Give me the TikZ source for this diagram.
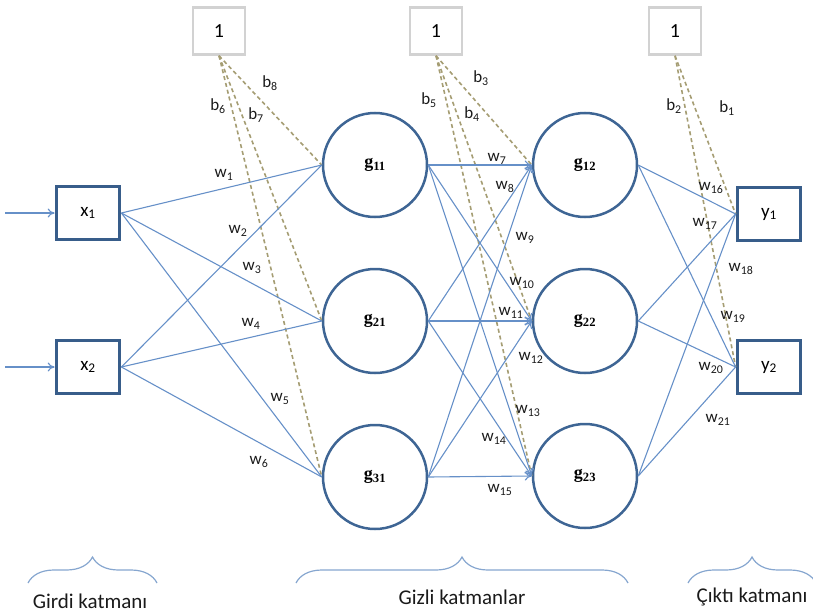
\documentclass[tikz,border=0pt]{standalone}
\usepackage{fontspec}
\setmainfont{Carlito}
\newfontfamily\nodeserif{Liberation Serif}
\usetikzlibrary{arrows.meta,decorations.pathreplacing}
\definecolor{boxblue}{HTML}{385D8A}
\definecolor{ringblue}{HTML}{3E6594}
\definecolor{linkblue}{HTML}{6690C8}
\definecolor{biasline}{HTML}{A59D73}
\definecolor{biasgray}{HTML}{D2D2D2}
\definecolor{braceblue}{HTML}{86A6CF}
\definecolor{labelink}{HTML}{1A1A1A}
\begin{document}
\begin{tikzpicture}[x=1pt,y=-1pt,
  iobox/.style={draw=boxblue,line width=3.8pt,minimum width=63pt,minimum height=53pt,inner sep=0pt,
    font=\fontsize{19}{22}\selectfont},
  neuron/.style={circle,draw=ringblue,line width=2.5pt,minimum size=104pt,inner sep=0pt,
    font=\nodeserif\bfseries\fontsize{18}{20}\selectfont},
  biasbox/.style={draw=biasgray,line width=2.5pt,minimum width=52pt,minimum height=47pt,inner sep=0pt,
    font=\fontsize{20}{22}\selectfont},
  link/.style={draw=linkblue,line width=1.1pt},
  arrowlink/.style={link,-{To[length=7pt,width=9pt]}},
  biaslink/.style={draw=biasline,line width=1.6pt,dash pattern=on 4pt off 3pt},
  wlabel/.style={text=labelink,inner sep=0pt,font=\fontsize{17}{19}\selectfont},
  bracedeco/.style={draw=braceblue,line width=1.2pt,decorate,decoration={brace,amplitude=26pt}},
  caption/.style={inner sep=0pt,text=labelink,font=\fontsize{21}{24}\selectfont}]
\useasboundingbox (0,0) rectangle (813,615);

% input, hidden and output units
\node[iobox] (x1) at (88,213) {x\textsubscript{1}};
\node[iobox] (x2) at (88,367) {x\textsubscript{2}};
\node[neuron] (g11) at (375,165) {g\textsubscript{11}};
\node[neuron] (g21) at (375,321) {g\textsubscript{21}};
\node[neuron] (g31) at (375,477) {g\textsubscript{31}};
\node[neuron] (g12) at (585,165) {g\textsubscript{12}};
\node[neuron] (g22) at (585,321) {g\textsubscript{22}};
\node[neuron] (g23) at (585,476) {g\textsubscript{23}};
\node[iobox] (y1) at (769,214) {y\textsubscript{1}};
\node[iobox] (y2) at (769,367) {y\textsubscript{2}};

% bias units
\node[biasbox] (bias1) at (219,31) {1};
\node[biasbox] (bias2) at (436,31) {1};
\node[biasbox] (bias3) at (675,31) {1};

% external inputs
\coordinate (in1) at (5,213);
\coordinate (in2) at (5,367);
\draw[arrowlink] (in1) -- (x1.west);
\draw[arrowlink] (in2) -- (x2.west);

% bias connections
\foreach \t in {g11,g21,g31} \draw[biaslink] (bias1.south) -- (\t.west);
\foreach \t in {g12,g22,g23} \draw[biaslink] (bias2.south) -- (\t.west);
\foreach \t in {y1,y2} \draw[biaslink] (bias3.south) -- (\t.west);

% input -> first hidden layer
\foreach \s in {x1,x2}
  \foreach \t in {g11,g21,g31}
    \draw[link] (\s.east) -- (\t.west);

% first hidden -> second hidden layer
\foreach \s in {g11,g21,g31}
  \foreach \t in {g12,g22,g23}
    \draw[arrowlink] (\s.east) -- (\t.west);

% second hidden -> output layer
\foreach \s in {g12,g22,g23}
  \foreach \t in {y1,y2}
    \draw[link] (\s.east) -- (\t.west);

% bias labels
\node[wlabel] (lb8) at (270,83) {b\textsubscript{8}};
\node[wlabel] (lb6) at (218,106) {b\textsubscript{6}};
\node[wlabel] (lb7) at (256,115) {b\textsubscript{7}};
\node[wlabel] (lb3) at (481,78) {b\textsubscript{3}};
\node[wlabel] (lb5) at (429,100) {b\textsubscript{5}};
\node[wlabel] (lb4) at (472,114) {b\textsubscript{4}};
\node[wlabel] (lb2) at (674,106) {b\textsubscript{2}};
\node[wlabel] (lb1) at (727,108) {b\textsubscript{1}};

% weight labels
\node[wlabel] (lw1) at (224,175) {w\textsubscript{1}};
\node[wlabel] (lw2) at (238,231) {w\textsubscript{2}};
\node[wlabel] (lw3) at (252,268) {w\textsubscript{3}};
\node[wlabel] (lw4) at (251,324) {w\textsubscript{4}};
\node[wlabel] (lw5) at (280,399) {w\textsubscript{5}};
\node[wlabel] (lw6) at (259,462) {w\textsubscript{6}};
\node[wlabel] (lw7) at (497,159) {w\textsubscript{7}};
\node[wlabel] (lw8) at (505,187) {w\textsubscript{8}};
\node[wlabel] (lw9) at (525,238) {w\textsubscript{9}};
\node[wlabel] (lw10) at (522,283) {w\textsubscript{10}};
\node[wlabel] (lw11) at (511,313) {w\textsubscript{11}};
\node[wlabel] (lw12) at (531,358) {w\textsubscript{12}};
\node[wlabel] (lw13) at (528,411) {w\textsubscript{13}};
\node[wlabel] (lw14) at (494,439) {w\textsubscript{14}};
\node[wlabel] (lw15) at (500,490) {w\textsubscript{15}};
\node[wlabel] (lw16) at (711,188) {w\textsubscript{16}};
\node[wlabel] (lw17) at (705,224) {w\textsubscript{17}};
\node[wlabel] (lw18) at (741,269) {w\textsubscript{18}};
\node[wlabel] (lw19) at (733,317) {w\textsubscript{19}};
\node[wlabel] (lw20) at (711,368) {w\textsubscript{20}};
\node[wlabel] (lw21) at (718,420) {w\textsubscript{21}};

% layer braces and captions
\draw[bracedeco] (28,583) -- (157,583);
\draw[bracedeco] (296,583) -- (628,583);
\draw[bracedeco] (688,583) -- (816,583);
\node[caption] (cin) at (90,601) {Girdi katmanı};
\node[caption] (chid) at (462,597) {Gizli katmanlar};
\node[caption] (cout) at (752,597) {Çıktı katmanı};
\end{tikzpicture}
\end{document}
